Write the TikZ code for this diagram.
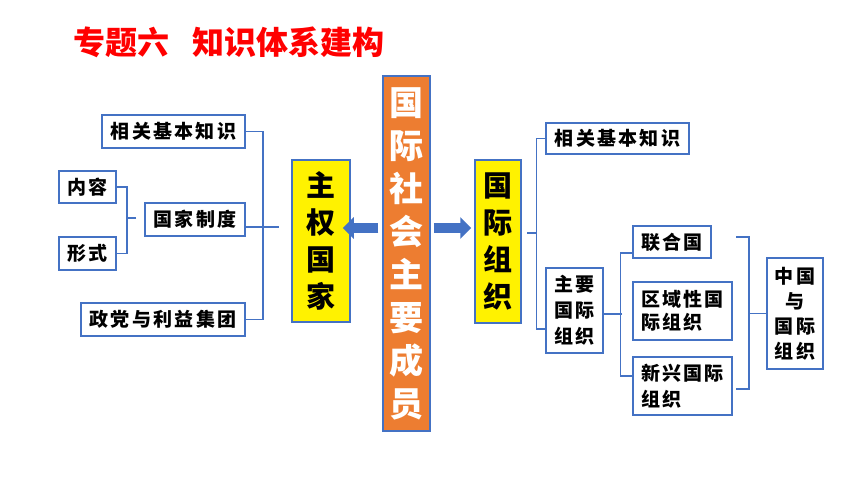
\documentclass[tikz,border=0pt]{standalone}
\usepackage[svgnames]{xcolor}
\usepackage{fontspec}
\setmainfont{Noto Sans CJK SC}
\newfontfamily\boxfont[LetterSpace=12]{Noto Sans CJK SC}
\usepackage{tikz}
\usetikzlibrary{arrows.meta}
\definecolor{boxblue}{HTML}{4472C4}
\definecolor{memberorange}{HTML}{ED7D31}
\tikzstyle{box} = [draw=boxblue, line width=1.5pt, fill=white, inner sep=0pt, align=center, font=\boxfont\fontsize{19}{26}\selectfont\bfseries]
\tikzstyle{keybox} = [box, fill=yellow, font=\boxfont\fontsize{29}{37}\selectfont\bfseries]
\tikzset{
  link/.style ={draw=boxblue, line width=1.5pt},
  bigarrow/.style ={draw=boxblue, line width=10pt, -{Triangle[length=11pt,width=21pt]}}
}

\begin{document}
\begin{tikzpicture}[x=1pt,y=-1pt]
	\fill[white] (0,0) rectangle (860,484);
	\useasboundingbox (0,0) rectangle (860,484);
	\node[text=red, font=\fontsize{32}{32}\selectfont\bfseries] (title) at (229,42) {专题六\hspace{0.7em}知识体系建构};

	% left part
	\node[box, minimum width=143pt, minimum height=33pt] (lk) at (173.5,131.5) {相关基本知识};
	\node[box, minimum width=57pt, minimum height=32pt] (nr) at (87.5,187) {内容};
	\node[box, minimum width=57pt, minimum height=33pt] (xs) at (87.5,253.5) {形式};
	\node[box, minimum width=100pt, minimum height=33pt] (gz) at (195,219.5) {国家制度};
	\node[box, minimum width=164pt, minimum height=33pt] (zd) at (163,319.5) {政党与利益集团};
	\node[keybox, minimum width=58pt, minimum height=162pt] (zq) at (321,241) {主\\权\\国\\家};

	% centre
	\node[box, fill=memberorange, text=white, minimum width=47pt, minimum height=355pt, font=\fontsize{34}{43}\selectfont\bfseries] (cy) at (406.5,253.5) {国\\际\\社\\会\\主\\要\\成\\员};
	\node[keybox, minimum width=46pt, minimum height=163pt] (gj) at (498,241.5) {国\\际\\组\\织};

	% right part
	\node[box, minimum width=143pt, minimum height=31pt] (rk) at (617.5,138.5) {相关基本知识};
	\node[box, minimum width=57pt, minimum height=85pt] (zy) at (574.5,310.5) {主要\\国际\\组织};
	\node[box, minimum width=78pt, minimum height=32pt] (lh) at (672,242) {联合国};
	\node[box, minimum width=99pt, minimum height=58pt, align=left, font=\boxfont\fontsize{19}{23}\selectfont\bfseries] (qy) at (682.5,311) {区域性国\\际组织};
	\node[box, minimum width=99pt, minimum height=58pt, align=left] (xx) at (682.5,386) {新兴国际\\组织};
	\node[box, minimum width=56pt, minimum height=111pt, font=\boxfont\fontsize{19}{25}\selectfont\bfseries] (zg) at (795,313.5) {中国\\与\\国际\\组织};

	% brackets
	\coordinate (lm) at (279,227);
	\draw[link] (lk.east) -- ++(17,0) |- (zd.east);
	\draw[link] (gz.east |- lm) -- (lm);
	\coordinate (sm) at (136,218);
	\draw[link] (nr.east) -- ++(10,0) |- (xs.east);
	\draw[link] (sm) -- ++(-10,0);

	\coordinate (rm) at (527,233);
	\draw[link] (rm) -- ++(10,0);
	\draw[link] (rk.west) -- ++(-9,0) |- ([yshift=-18.5pt]zy.west);
	\draw[link] ([yshift=-3.5pt]zy.east) -- ++(18,0);
	\draw[link] ([yshift=-11pt]lh.west) -- ++(-12,0) |- ([yshift=10pt]xx.west);

	\coordinate (ct) at (736,237);
	\coordinate (cb) at (736,389);
	\draw[link] (ct) -- ++(13,0) |- (cb);
	\draw[link] (zg.west) -- ++(-18,0);

	% arrows
	\coordinate (ay) at (0,228);
	\draw[bigarrow, shorten <=4pt, shorten >=-8pt] (cy.west |- ay) -- (zq.east |- ay);
	\draw[bigarrow, shorten <=3pt, shorten >=3pt] (cy.east |- ay) -- (gj.west |- ay);

\end{tikzpicture}
\end{document}
